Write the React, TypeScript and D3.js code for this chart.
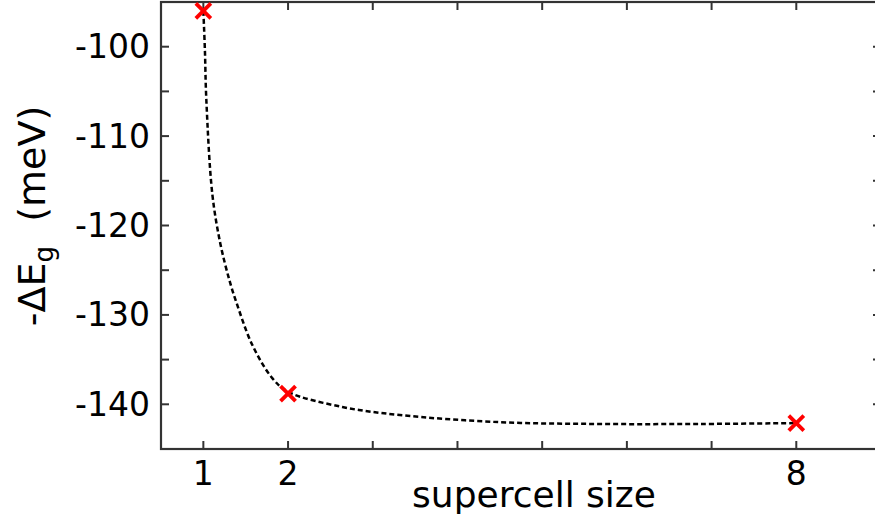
import React from "react";
import * as d3 from "d3";

const pointX = [1, 2, 8];
const pointY = [-96.0, -138.8, -142.1];

// dashed guide curve
const curveX = [1, 1.018, 1.035, 1.106, 1.2, 1.307, 1.39, 1.58, 1.816, 2, 2.64, 3.32, 4.5, 5.68, 6.86, 8];
const curveY = [-96.0, -100.3, -105.9, -116.5, -122.0, -126.1, -128.6, -133.4, -137.1, -138.6, -140.3, -141.2, -142.0, -142.2, -142.2, -142.1];

const xTicks = [1, 2, 3, 4, 5, 6, 7, 8, 9];
const xTickLabels = [1, 2, 8];
const yTicks = [-145, -140, -135, -130, -125, -120, -115, -110, -105, -100, -95];
const yTickLabels = [-140, -130, -120, -110, -100];

const W = 875;
const H = 518;
const L = 161, R = 881, T = 2, B = 449;

export default function App() {
  const x = d3.scaleLinear().domain([0.5, 9]).range([L, R]);
  const y = d3.scaleLinear().domain([-145, -95]).range([B, T]);
  const line = d3
    .line<number>()
    .x((_, i) => x(curveX[i]))
    .y((d) => y(d))
    .curve(d3.curveCatmullRom.alpha(0.5));
  const axisColor = "#333";
  const font = "'DejaVu Sans', Verdana, sans-serif";
  const tl = 8;
  const ms = 7.5;
  return (
    <svg
      width={W}
      height={H}
      style={{ position: "absolute", left: 0, top: 0, background: "#fff" }}
    >
      <path d={line(curveY) || ""} fill="none" stroke="#000" strokeWidth={2.5} strokeDasharray="5,3" />
      {/* box */}
      <rect x={L} y={T} width={R - L} height={B - T} fill="none" stroke={axisColor} strokeWidth={2.2} />
      {xTicks.map((t) => (
        <g key={"xt" + t}>
          <line x1={x(t)} x2={x(t)} y1={B} y2={B - tl} stroke={axisColor} strokeWidth={2} />
          <line x1={x(t)} x2={x(t)} y1={T} y2={T + tl} stroke={axisColor} strokeWidth={2} />
        </g>
      ))}
      {yTicks.map((t) => (
        <g key={"yt" + t}>
          <line x1={L} x2={L + tl} y1={y(t)} y2={y(t)} stroke={axisColor} strokeWidth={2} />
          <line x1={R} x2={R - tl} y1={y(t)} y2={y(t)} stroke={axisColor} strokeWidth={2} />
        </g>
      ))}
      {xTickLabels.map((t) => (
        <text key={"xl" + t} x={x(t)} y={485} textAnchor="middle" fontFamily={font} fontSize={33} fill="#000">
          {t}
        </text>
      ))}
      {yTickLabels.map((t) => (
        <text key={"yl" + t} x={150} y={y(t)} textAnchor="end" dominantBaseline="central" fontFamily={font} fontSize={33} fill="#000">
          {t}
        </text>
      ))}
      <text x={534} y={507} textAnchor="middle" fontFamily={font} fontSize={36} fill="#000">
        supercell size
      </text>
      <text
        transform={`translate(45,216) rotate(-90)`}
        textAnchor="middle"
        fontFamily={font}
        fontSize={38}
        fill="#000"
        style={{ whiteSpace: "pre" }}
      >
        -ΔE
        <tspan fontSize={26} dy={8}>g</tspan>
        <tspan dy={-8}>{"  (meV)"}</tspan>
      </text>
      {pointX.map((px, i) => {
        const cx = x(px), cy = y(pointY[i]);
        return (
          <g key={"m" + i} stroke="#ff0000" strokeWidth={3.8}>
            <line x1={cx - ms} y1={cy - ms} x2={cx + ms} y2={cy + ms} />
            <line x1={cx - ms} y1={cy + ms} x2={cx + ms} y2={cy - ms} />
          </g>
        );
      })}
    </svg>
  );
}
